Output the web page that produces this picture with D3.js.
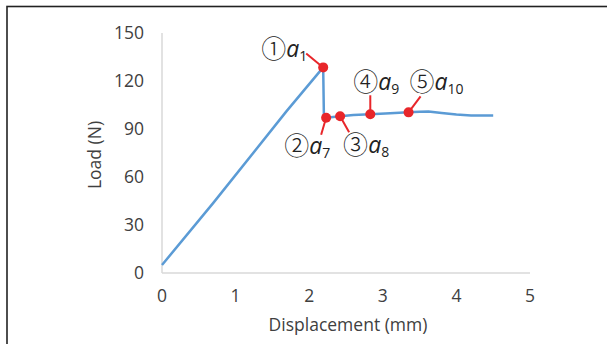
<!DOCTYPE html>
<html>
<head>
<meta charset="utf-8">
<script src="https://cdn.jsdelivr.net/npm/d3@7"></script>
<style>
  body { margin: 0; background: #fff; }
  svg { display: block; }
</style>
</head>
<body>
<script>
// load-displacement curve
var dispValues = [0, 0.70, 1.69, 2.19, 2.20, 2.23, 2.42, 2.6, 2.83, 3.1, 3.35, 3.5, 3.62, 3.8, 4.0, 4.2, 4.5];
var loadValues = [5, 44, 101, 128.5, 97, 97, 98, 98.8, 99.2, 99.8, 100.4, 100.8, 101, 100, 99, 98.5, 98.5];

// marked points
var markX = [2.19, 2.23, 2.42, 2.83, 3.35];
var markY = [128.5, 97, 98, 99.2, 100.4];
var markCircled = ["\u2460", "\u2461", "\u2462", "\u2463", "\u2464"];
var markSub = ["1", "7", "8", "9", "10"];

var xTicks = [0, 1, 2, 3, 4, 5];
var yTicks = [0, 30, 60, 90, 120, 150];

var W = 607, H = 344;
var margin = {top: 33, left: 162};
var width = 368, height = 240;

var svg = d3.select("body").append("svg")
    .attr("width", W)
    .attr("height", H);

// outer frame
svg.append("rect")
    .attr("x", 7).attr("y", 6.5)
    .attr("width", 620).attr("height", 360)
    .attr("fill", "none")
    .attr("stroke", "#222")
    .attr("stroke-width", 1.6);

var g = svg.append("g")
    .attr("transform", "translate(" + margin.left + "," + margin.top + ")");

var x = d3.scaleLinear().domain([0, 5]).range([0, width]);
var y = d3.scaleLinear().domain([0, 150]).range([height, 0]);

// axes lines
g.append("line")
    .attr("x1", 0).attr("x2", 0).attr("y1", 0).attr("y2", height)
    .attr("stroke", "#d9d9d9").attr("stroke-width", 1.5);
g.append("line")
    .attr("x1", 0).attr("x2", width).attr("y1", height).attr("y2", height)
    .attr("stroke", "#d9d9d9").attr("stroke-width", 1.5);

var font = "'Open Sans', 'Noto Sans', sans-serif";
var txtColor = "#404040";

g.selectAll(".ytick")
    .data(yTicks)
  .enter().append("text")
    .attr("x", -18)
    .attr("y", function(d) { return y(d); })
    .attr("dy", "0.35em")
    .attr("text-anchor", "end")
    .attr("font-family", font)
    .attr("font-size", 17.5)
    .attr("fill", txtColor)
    .text(function(d) { return d; });

g.selectAll(".xtick")
    .data(xTicks)
  .enter().append("text")
    .attr("x", function(d) { return x(d); })
    .attr("y", height + 23)
    .attr("dy", "0.35em")
    .attr("text-anchor", "middle")
    .attr("font-family", font)
    .attr("font-size", 17.5)
    .attr("fill", txtColor)
    .text(function(d) { return d; });

// axis titles
g.append("text")
    .attr("text-anchor", "middle")
    .attr("transform", "translate(" + (348 - margin.left) + "," + (height + 52) + ")")
    .attr("dy", "0.35em")
    .attr("font-family", font)
    .attr("font-size", 17.5)
    .attr("fill", txtColor)
    .text("Displacement (mm)");

g.append("text")
    .attr("text-anchor", "middle")
    .attr("transform", "translate(" + (95 - margin.left) + "," + (155 - margin.top) + ")rotate(-90)")
    .attr("dy", "0.35em")
    .attr("font-family", font)
    .attr("font-size", 17.5)
    .attr("fill", txtColor)
    .text("Load (N)");

// curve
var pts = dispValues.map(function(d, i) { return [d, loadValues[i]]; });
var line = d3.line()
    .x(function(d) { return x(d[0]); })
    .y(function(d) { return y(d[1]); });

g.append("path")
    .datum(pts)
    .attr("d", line)
    .attr("fill", "none")
    .attr("stroke", "#5b9bd5")
    .attr("stroke-width", 2.5)
    .attr("stroke-linejoin", "round");

// leader offsets (end of leader relative to marker) and label anchor offsets
var leadDx = [-17, -5, 9, 0, 12];
var leadDy = [-14, 17, 16, -19, -16];
var labDx = [-62, -42, 3, -17, 1];
var labDy = [-18, 28, 29, -32, -30];

var marks = markX.map(function(d, i) { return {x: d, y: markY[i], i: i}; });

g.selectAll(".lead")
    .data(marks)
  .enter().append("line")
    .attr("x1", function(d) { return x(d.x); })
    .attr("y1", function(d) { return y(d.y); })
    .attr("x2", function(d) { return x(d.x) + leadDx[d.i]; })
    .attr("y2", function(d) { return y(d.y) + leadDy[d.i]; })
    .attr("stroke", "#e8262a")
    .attr("stroke-width", 2);

g.selectAll(".dot")
    .data(marks)
  .enter().append("circle")
    .attr("cx", function(d) { return x(d.x); })
    .attr("cy", function(d) { return y(d.y); })
    .attr("r", 5)
    .attr("fill", "#e8262a");

var labels = g.selectAll(".lab")
    .data(marks)
  .enter().append("text")
    .attr("x", function(d) { return x(d.x) + labDx[d.i]; })
    .attr("y", function(d) { return y(d.y) + labDy[d.i] + 8; })
    .attr("fill", "#222");

labels.append("tspan")
    .attr("font-family", "'Noto Sans CJK JP', sans-serif")
    .attr("font-weight", 300)
    .attr("font-size", 25)
    .attr("dy", 1)
    .text(function(d) { return markCircled[d.i]; });
labels.append("tspan")
    .attr("font-family", font)
    .attr("font-style", "italic")
    .attr("font-size", 23)
    .attr("dy", -1)
    .text("a");
labels.append("tspan")
    .attr("font-family", font)
    .attr("font-size", 14)
    .attr("dy", 4)
    .text(function(d) { return markSub[d.i]; });
</script>
</body>
</html>
